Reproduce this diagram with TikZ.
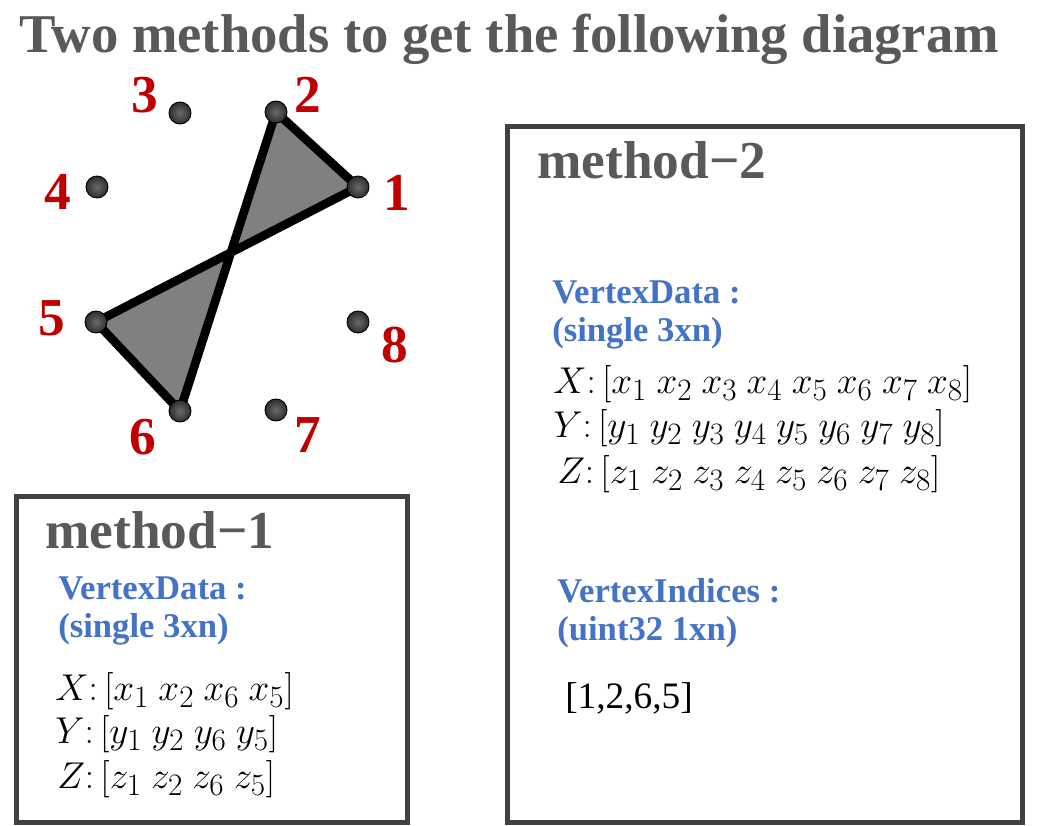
\documentclass[tikz,border=0pt]{standalone}
\usepackage{graphicx}
\usepackage{fontspec}
\setmainfont{Liberation Serif}
\newcommand{\mymathline}[1]{\scalebox{1.125}{$#1$}}
\definecolor{titlegray}{HTML}{595959}
\definecolor{labred}{HTML}{C00000}
\definecolor{keyblue}{HTML}{4472C4}
\definecolor{boxgray}{HTML}{404040}
\definecolor{fillgray}{HTML}{808080}
\definecolor{dotin}{HTML}{6A6A6A}
\definecolor{dotout}{HTML}{2E2E2E}
\tikzset{
  titletext/.style={font=\fontsize{41}{48}\selectfont\bfseries, text=titlegray, inner sep=0pt, anchor=base west},
  methodtext/.style={font=\fontsize{40}{48}\selectfont\bfseries, text=titlegray, inner sep=0pt, anchor=base west},
  vlabel/.style={font=\fontsize{40}{48}\selectfont\bfseries, text=labred, inner sep=0pt},
  vdot/.style={circle, draw=black, line width=0.7pt, minimum size=16.5pt, inner sep=0pt, inner color=dotin, outer color=dotout},
  bowtie/.style={draw=black, line width=6.5pt, line join=round, fill=fillgray},
  methodbox/.style={draw=boxgray, line width=3.4pt, inner sep=0pt, anchor=north west},
  keytext/.style={font=\fontsize{26}{30}\selectfont\bfseries, text=keyblue, inner sep=0pt, anchor=base west},
  mathtext/.style={font=\fontsize{24.88}{30}\selectfont, inner sep=0pt, anchor=base west},
  idxtext/.style={font=\fontsize{28}{34}\selectfont, inner sep=0pt, anchor=base west},
}
\begin{document}
\begin{tikzpicture}[x=0.75pt,y=-0.75pt]
\useasboundingbox (0,0) rectangle (1042,825);
\fill[white] (0,0) rectangle (1042,825);

% title
\node[titletext] (title) at (19,52) {Two methods to get the following diagram};

% vertex positions
\coordinate (p1) at (358,187);
\coordinate (p2) at (276,112);
\coordinate (p3) at (180,113);
\coordinate (p4) at (97,187);
\coordinate (p5) at (96,322);
\coordinate (p6) at (180,411);
\coordinate (p7) at (276,410);
\coordinate (p8) at (358,322);

% bow-tie polygon [1,2,6,5]
\draw[bowtie] (p1) -- (p2) -- (p6) -- (p5) -- cycle;

% dots
\foreach \i in {1,...,8} { \node[vdot] (v\i) at (p\i) {}; }

% vertex labels
\node[vlabel] (l1) at (397,193) {1};
\node[vlabel] (l2) at (308,95) {2};
\node[vlabel] (l3) at (145,95) {3};
\node[vlabel] (l4) at (58,192) {4};
\node[vlabel] (l5) at (52,318) {5};
\node[vlabel] (l6) at (143,437) {6};
\node[vlabel] (l7) at (308,435) {7};
\node[vlabel] (l8) at (395,345) {8};

% method 1 box
\node[methodbox, minimum width=293.25pt, minimum height=244.5pt] (box1) at (14,494) {};
\node[methodtext] (m1) at (45,548) {method−1};
\node[keytext] (m1k1) at (58,599) {VertexData :};
\node[keytext] (m1k2) at (58,637) {(single 3xn)};
\node[mathtext] (m1x) at (55,700) {\mymathline{X\colon[x_1\ x_2\ x_6\ x_5]}};
\node[mathtext] (m1y) at (55,743) {\mymathline{Y\colon[y_1\ y_2\ y_6\ y_5]}};
\node[mathtext] (m1z) at (57,788) {\mymathline{Z\colon[z_1\ z_2\ z_6\ z_5]}};

% method 2 box
\node[methodbox, minimum width=386.25pt, minimum height=522pt] (box2) at (505,124) {};
\node[methodtext] (m2) at (537,178) {method−2};
\node[keytext] (m2k1) at (552,303) {VertexData :};
\node[keytext] (m2k2) at (552,341) {(single 3xn)};
\node[mathtext] (m2x) at (553,393) {\mymathline{X\colon[x_1\ x_2\ x_3\ x_4\ x_5\ x_6\ x_7\ x_8]}};
\node[mathtext] (m2y) at (553,437) {\mymathline{Y\colon[y_1\ y_2\ y_3\ y_4\ y_5\ y_6\ y_7\ y_8]}};
\node[mathtext] (m2z) at (557,483) {\mymathline{Z\colon[z_1\ z_2\ z_3\ z_4\ z_5\ z_6\ z_7\ z_8]}};
\node[keytext] (m2k3) at (557,602) {VertexIndices :};
\node[keytext] (m2k4) at (557,640) {(uint32 1xn)};
\node[idxtext] (m2idx) at (565,708) {[1,2,6,5]};
\end{tikzpicture}
\end{document}
